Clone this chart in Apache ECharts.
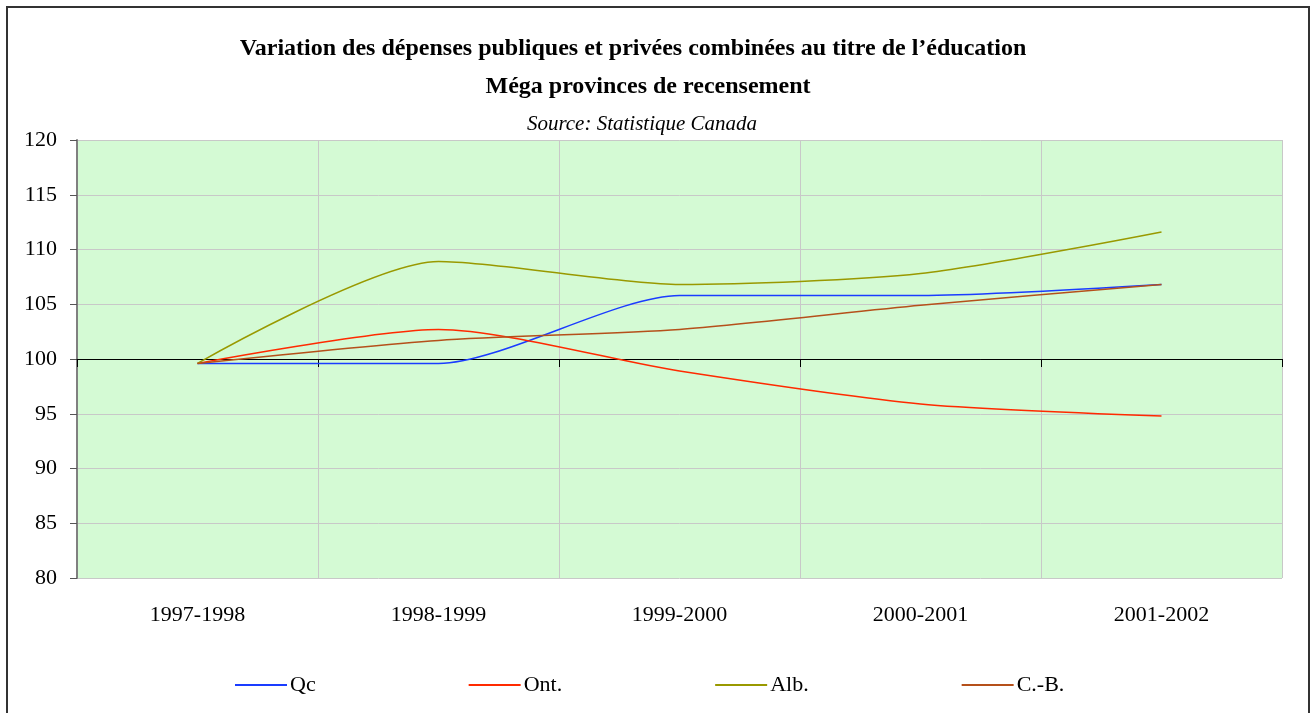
<!DOCTYPE html>
<html lang="fr">
<head>
    <meta charset="UTF-8">
    <title>Variation des dépenses</title>
    <script src="https://cdn.jsdelivr.net/npm/echarts@6/dist/echarts.min.js"></script>
    <style>
        html, body { margin: 0; padding: 0; background: #fff; }
        #chart { width: 1311px; height: 713px; }
    </style>
</head>
<body>
    <div id="chart"></div>
    <script>
        // données
        var annees = ['1997-1998', '1998-1999', '1999-2000', '2000-2001', '2001-2002'];
        var qc = [99.6, 99.6, 105.8, 105.8, 106.8];
        var ont = [99.6, 102.7, 98.9, 95.9, 94.8];
        var alb = [99.6, 108.9, 106.8, 107.8, 111.6];
        var cb = [99.6, 101.7, 102.7, 104.9, 106.8];
        var yTicks = [80, 85, 90, 95, 100, 105, 110, 115, 120];

        var police = '"Liberation Serif", serif';
        var myChart = echarts.init(document.getElementById('chart'));

        function serie(nom, data, couleur) {
            return {
                name: nom,
                type: 'line',
                data: data,
                smooth: 0.25,
                symbol: 'none',
                lineStyle: { color: couleur, width: 1.5 },
                itemStyle: { color: couleur },
                z: 5
            };
        }

        var option = {
            backgroundColor: '#fff',
            animation: false,
            title: [{
                text: 'Variation des dépenses publiques et privées combinées au titre de l\u2019éducation',
                left: 628, top: 32, textAlign: 'center',
                textStyle: { fontFamily: police, fontSize: 24, fontWeight: 'bold', color: '#000' }
            }, {
                text: 'Méga provinces de recensement',
                left: 643, top: 70, textAlign: 'center',
                textStyle: { fontFamily: police, fontSize: 24, fontWeight: 'bold', color: '#000' }
            }, {
                text: 'Source: Statistique Canada',
                left: 637, top: 109, textAlign: 'center',
                textStyle: { fontFamily: police, fontSize: 21, fontStyle: 'italic', fontWeight: 'normal', color: '#000' }
            }],
            graphic: [{
                type: 'rect',
                shape: { x: 7, y: 7, width: 1302, height: 720 },
                style: { fill: null, stroke: '#333', lineWidth: 2 },
                silent: true
            }],
            legend: {
                left: 230, top: 669,
                icon: 'rect',
                itemWidth: 52, itemHeight: 2, itemGap: 153,
                textStyle: { fontFamily: police, fontSize: 22, color: '#000', padding: [0, 0, 0, -2] },
                data: ['Qc', 'Ont.', 'Alb.', 'C.-B.']
            },
            grid: {
                left: 77, right: 29, top: 140, bottom: 135,
                show: true, backgroundColor: '#d4fad4', borderWidth: 0
            },
            xAxis: [{
                type: 'category',
                data: annees,
                boundaryGap: true,
                axisLine: { show: false },
                axisTick: { show: false },
                axisLabel: { margin: 26, fontFamily: police, fontSize: 22, color: '#000' },
                splitLine: { show: true, lineStyle: { color: '#c8c8c8', width: 1 } }
            }, {
                type: 'category',
                data: annees,
                position: 'bottom',
                offset: -219,
                boundaryGap: true,
                axisLine: { show: true, lineStyle: { color: '#000', width: 1 } },
                axisTick: { show: true, length: 8, lineStyle: { color: '#000' } },
                axisLabel: { show: false },
                splitLine: { show: false },
                z: 3
            }],
            yAxis: {
                type: 'value',
                min: yTicks[0], max: yTicks[yTicks.length - 1], interval: 5,
                axisLine: { show: true, lineStyle: { color: '#808080', width: 2 } },
                axisTick: { show: true, length: 7, lineStyle: { color: '#555' } },
                axisLabel: { margin: 20, fontFamily: police, fontSize: 22, color: '#000' },
                splitLine: { show: true, lineStyle: { color: '#c8c8c8', width: 1 } }
            },
            series: [
                serie('Qc', qc, '#1a3cff'),
                serie('Ont.', ont, '#ff2a00'),
                serie('Alb.', alb, '#999900'),
                serie('C.-B.', cb, '#b5501a')
            ]
        };

        myChart.setOption(option);
    </script>
</body>
</html>
